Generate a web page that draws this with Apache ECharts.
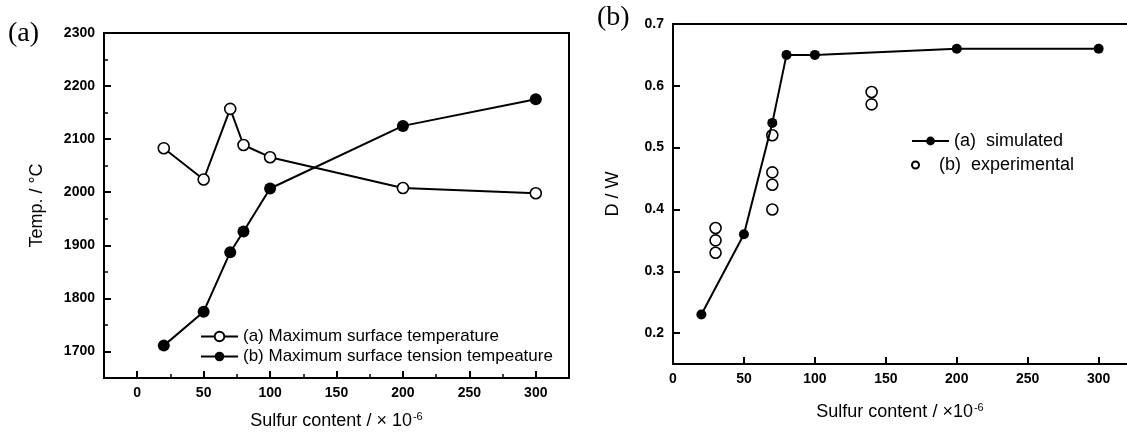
<!DOCTYPE html>
<html lang="en">
<head>
    <meta charset="UTF-8">
    <title>Sulfur content charts</title>
    <style>
        body { margin: 0; background: #fff; }
        #chart { width: 1127px; height: 436px; }
    </style>
    <script src="https://cdn.jsdelivr.net/npm/echarts@6.0.0/dist/echarts.min.js"></script>
</head>
<body>
    <div id="chart"></div>
    <script>
        // panel (a): temperatures vs sulfur content
        const sulfurA = [20, 50, 70, 80, 100, 200, 300];
        const maxSurfaceTemp = [2083, 2024, 2157, 2089, 2066, 2008, 1998];
        const maxTensionTemp = [1711, 1775, 1887, 1926, 2007, 2125, 2175];

        // panel (b): D/W vs sulfur content
        const sulfurSim = [20, 50, 70, 80, 100, 200, 300];
        const dwSim = [0.23, 0.36, 0.54, 0.65, 0.65, 0.66, 0.66];
        const sulfurExp = [30, 30, 30, 70, 70, 70, 70, 140, 140];
        const dwExp = [0.37, 0.35, 0.33, 0.52, 0.46, 0.44, 0.40, 0.59, 0.57];

        // tick labels
        const sulfurTicks = [0, 50, 100, 150, 200, 250, 300];
        const sulfurMinorA = [25, 75, 125, 175, 225, 275];
        const tempTicks = [1700, 1800, 1900, 2000, 2100, 2200, 2300];
        const tempMinor = [1750, 1850, 1950, 2050, 2150, 2250];
        const dwTicks = [0.2, 0.3, 0.4, 0.5, 0.6, 0.7];

        const zip = (xs, ys) => xs.map((x, i) => [x, ys[i]]);

        const black = '#000';
        const font = '"Liberation Sans", Arial, sans-serif';
        const sulfurName = '{t|Sulfur content / \u00d7 10}{s|-6}';
        const sulfurNameB = '{t|Sulfur content / \u00d710}{s|-6}';
        const nameRich = {
            t: { fontSize: 18, color: black, fontFamily: font },
            s: { fontSize: 11, color: black, fontFamily: font, verticalAlign: 'top', padding: [0, 0, 10, 1] }
        };
        const plain = v => String(v);

        function tickLabel(values, size, margin) {
            return {
                color: black, fontSize: size, fontWeight: 'bold', fontFamily: font,
                margin: margin, customValues: values, formatter: plain
            };
        }

        function majorTick(values) {
            return { show: true, inside: true, length: 7, customValues: values, lineStyle: { color: black, width: 2 } };
        }

        function minorTick(values) {
            return { show: true, inside: true, length: 4, customValues: values, lineStyle: { color: black, width: 1.5 } };
        }

        const axisLine = { show: true, onZero: false, lineStyle: { color: black, width: 2 } };

        const chart = echarts.init(document.getElementById('chart'));

        const option = {
            animation: false,
            backgroundColor: '#fff',
            textStyle: { fontFamily: font, color: black },
            graphic: [
                { type: 'text', left: 8, top: 20, style: { text: '(a)', font: '28px "Liberation Serif", "Times New Roman", serif', fill: black } },
                { type: 'text', left: 597, top: 4, style: { text: '(b)', font: '28px "Liberation Serif", "Times New Roman", serif', fill: black } }
            ],
            grid: [
                { left: 104, right: 558, top: 33, bottom: 58, show: true, borderColor: black, borderWidth: 2 },
                { left: 673, right: 0, top: 24, bottom: 72 }
            ],
            xAxis: [
                {
                    type: 'value', gridIndex: 0, position: 'bottom', min: -25, max: 325,
                    axisLine: axisLine,
                    axisTick: majorTick(sulfurTicks),
                    axisLabel: tickLabel(sulfurTicks, 14, 8),
                    splitLine: { show: false },
                    name: sulfurName, nameLocation: 'middle', nameGap: 33,
                    nameTextStyle: { rich: nameRich }
                },
                {
                    type: 'value', gridIndex: 0, position: 'bottom', min: -25, max: 325,
                    axisLine: { show: false, onZero: false },
                    axisTick: minorTick(sulfurMinorA),
                    axisLabel: { show: false }, splitLine: { show: false }
                },
                {
                    type: 'value', gridIndex: 1, position: 'bottom', min: 0, max: 320,
                    axisLine: axisLine,
                    axisTick: majorTick(sulfurTicks),
                    axisLabel: tickLabel(sulfurTicks, 14, 8),
                    splitLine: { show: false },
                    name: sulfurNameB, nameLocation: 'middle', nameGap: 38,
                    nameTextStyle: { rich: nameRich }
                },
                {
                    type: 'value', gridIndex: 1, position: 'top', min: 0, max: 320,
                    axisLine: axisLine,
                    axisTick: { show: false }, axisLabel: { show: false }, splitLine: { show: false }
                }
            ],
            yAxis: [
                {
                    type: 'value', gridIndex: 0, position: 'left', min: 1650, max: 2300,
                    axisLine: axisLine,
                    axisTick: majorTick(tempTicks),
                    axisLabel: tickLabel(tempTicks, 14, 9),
                    splitLine: { show: false },
                    name: 'Temp. / \u00b0C', nameLocation: 'middle', nameRotate: 90, nameGap: 58,
                    nameTextStyle: { fontSize: 18, color: black, fontFamily: font }
                },
                {
                    type: 'value', gridIndex: 0, position: 'left', min: 1650, max: 2300,
                    axisLine: { show: false, onZero: false },
                    axisTick: minorTick(tempMinor),
                    axisLabel: { show: false }, splitLine: { show: false }
                },
                {
                    type: 'value', gridIndex: 1, position: 'left', min: 0.15, max: 0.7,
                    axisLine: axisLine,
                    axisTick: majorTick(dwTicks),
                    axisLabel: tickLabel(dwTicks, 14, 9),
                    splitLine: { show: false },
                    name: 'D / W', nameLocation: 'middle', nameRotate: 90, nameGap: 51,
                    nameTextStyle: { fontSize: 18, color: black, fontFamily: font }
                }
            ],
            legend: [
                {
                    left: 195, top: 323, orient: 'vertical', itemGap: 3,
                    itemWidth: 37, itemHeight: 12, selectedMode: false,
                    textStyle: { fontSize: 17, color: black, fontFamily: font },
                    data: ['(a) Maximum surface temperature', '(b) Maximum surface tension tempeature']
                },
                {
                    left: 906, top: 127, itemWidth: 37, itemHeight: 11, selectedMode: false,
                    textStyle: { fontSize: 18, color: black, fontFamily: font },
                    data: ['(a)  simulated']
                },
                {
                    left: 906, top: 151, itemWidth: 37, itemHeight: 7, selectedMode: false,
                    textStyle: { fontSize: 18, color: black, fontFamily: font },
                    data: ['(b)  experimental']
                }
            ],
            series: [
                {
                    name: '(a) Maximum surface temperature', type: 'line',
                    xAxisIndex: 0, yAxisIndex: 0,
                    data: zip(sulfurA, maxSurfaceTemp),
                    symbol: 'circle', symbolSize: 11,
                    lineStyle: { color: black, width: 2 },
                    itemStyle: { color: '#fff', borderColor: black, borderWidth: 1.6 }
                },
                {
                    name: '(b) Maximum surface tension tempeature', type: 'line',
                    xAxisIndex: 0, yAxisIndex: 0,
                    data: zip(sulfurA, maxTensionTemp),
                    symbol: 'circle', symbolSize: 12,
                    lineStyle: { color: black, width: 2 },
                    itemStyle: { color: black }
                },
                {
                    name: '(a)  simulated', type: 'line',
                    xAxisIndex: 2, yAxisIndex: 2,
                    data: zip(sulfurSim, dwSim),
                    symbol: 'circle', symbolSize: 10,
                    lineStyle: { color: black, width: 2 },
                    itemStyle: { color: black }
                },
                {
                    name: '(b)  experimental', type: 'scatter',
                    xAxisIndex: 2, yAxisIndex: 2,
                    data: zip(sulfurExp, dwExp),
                    symbol: 'circle', symbolSize: 11,
                    itemStyle: { color: '#fff', borderColor: black, borderWidth: 1.6, opacity: 1 }
                }
            ]
        };

        chart.setOption(option);
    </script>
</body>
</html>
